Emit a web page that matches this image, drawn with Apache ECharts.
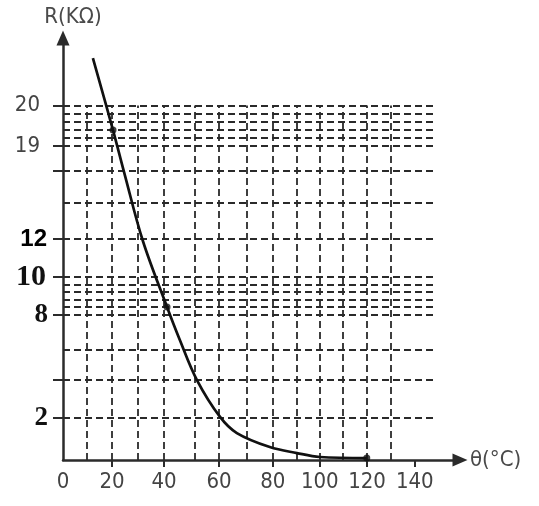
<!DOCTYPE html>
<html>
<head>
<meta charset="utf-8">
<script src="https://cdn.jsdelivr.net/npm/echarts@6/dist/echarts.min.js"></script>
<style>
  html, body { margin: 0; padding: 0; background: #fff; }
  #chart { width: 539px; height: 506px; }
</style>
</head>
<body>
<div id="chart"></div>
<script>
// Curve (θ in °C, R in kΩ as drawn on the axes)
const curveTheta = [11.9, 19.9, 24.3, 31.8, 41.4, 46.5, 53.3, 62.5, 69.2, 82.3, 93.1, 102.2, 120.9];
const curveR     = [22.67, 18.61, 16.24, 12.35, 8.63, 6.77, 4.51, 2.43, 1.52, 0.73, 0.39, 0.17, 0.11];

// Marked points on the curve
const markTheta = [19.9, 41.4, 120.9];
const markR     = [18.61, 8.63, 0.11];

// Dashed grid lines (positions)
const hGridValues = [20, 19.52, 19.06, 18.61, 18.16, 17.71, 16.30, 14.50, 12.46,
                     10.32, 9.87, 9.48, 9.02, 8.63, 8.18, 6.20, 4.51, 2.37];
const vGridValues = [9.5, 19.5, 29.8, 40.2, 52.5, 62.1, 73.2, 83.5, 93.1, 102.2, 111.4, 121, 130.5];
const hGridEnd = 148;   // horizontal lines run from θ=0 to here
const vGridEnd = 20;    // vertical lines run from R=0 to here

// Axis ticks and labels
const xTickValues = [0, 19.5, 40.2, 62.1, 83.5, 102.2, 121, 140];
const xTickLabels = ['0', '20', '40', '60', '80', '100', '120', '140'];
const yTickValues = [20, 17.71, 16.30, 12.46, 10.32, 8.18, 4.51, 2.37];
const yLabelValues = [20, 17.71, 12.46, 10.32, 8.18, 2.37];
const yLabelTexts  = ['20', '19', '12', '10', '8', '2'];

const xName = 'θ(°C)';
const yName = 'R(KΩ)';

const yLabelStyle = { '20': 's', '19': 's', '12': 'b', '10': 't', '8': 'u', '2': 'u' };

const chart = echarts.init(document.getElementById('chart'), null, { renderer: 'canvas' });

const gridLineData = [];
hGridValues.forEach(v => gridLineData.push([{ coord: [0, v] }, { coord: [hGridEnd, v] }]));
vGridValues.forEach(v => gridLineData.push([{ coord: [v, 0] }, { coord: [v, vGridEnd] }]));

const axisColor = '#2b2b2b';
const sansFont = 'DejaVu Sans Condensed, Liberation Sans, sans-serif';

const option = {
  animation: false,
  backgroundColor: '#ffffff',
  grid: { left: 63, right: 79, top: 38, bottom: 46, containLabel: false },
  xAxis: {
    type: 'value',
    min: 0,
    max: 158,
    name: xName,
    nameLocation: 'end',
    nameGap: 10,
    nameTextStyle: { fontFamily: sansFont, fontSize: 22, color: '#4a4a4a', verticalAlign: 'middle' },
    axisLine: { show: true, symbol: ['none', 'triangle'], symbolSize: [13, 15], lineStyle: { color: axisColor, width: 2.5 } },
    axisTick: { show: true, customValues: xTickValues.slice(1), length: 7, lineStyle: { color: axisColor, width: 2 } },
    axisLabel: {
      show: true,
      customValues: xTickValues,
      margin: 11,
      fontFamily: sansFont,
      fontSize: 22,
      color: '#444',
      formatter: function (v) {
        let best = 0, d = Infinity;
        xTickValues.forEach((t, i) => { if (Math.abs(t - v) < d) { d = Math.abs(t - v); best = i; } });
        return xTickLabels[best];
      }
    },
    splitLine: { show: false }
  },
  yAxis: {
    type: 'value',
    min: 0,
    max: 23.8,
    name: yName,
    nameLocation: 'end',
    nameGap: 10,
    nameTextStyle: { fontFamily: sansFont, fontSize: 22, color: '#4a4a4a', padding: [0, 0, 0, 20] },
    axisLine: { show: true, symbol: ['none', 'triangle'], symbolSize: [13, 15], lineStyle: { color: axisColor, width: 2.5 } },
    axisTick: { show: true, customValues: yTickValues, length: 10, lineStyle: { color: axisColor, width: 2 } },
    axisLabel: {
      show: true,
      customValues: yLabelValues,
      margin: 13,
      formatter: function (v) {
        let best = 0, d = Infinity;
        yLabelValues.forEach((t, i) => { if (Math.abs(t - v) < d) { d = Math.abs(t - v); best = i; } });
        const txt = yLabelTexts[best];
        return '{' + yLabelStyle[txt] + '|' + txt + '}';
      },
      rich: {
        s: { fontFamily: sansFont, fontSize: 22, color: '#444', padding: [0, 10, 0, 0] },
        b: { fontFamily: 'Liberation Sans, Arial, sans-serif', fontWeight: 'bold', fontSize: 24, color: '#000', padding: [0, 3, 0, 0] },
        t: { fontFamily: 'Liberation Serif, Times New Roman, serif', fontWeight: 'bold', fontSize: 30, color: '#111', padding: [0, 4, 0, 0] },
        u: { fontFamily: 'Liberation Serif, Times New Roman, serif', fontWeight: 'bold', fontSize: 27, color: '#111', padding: [0, 2, 0, 0] }
      }
    },
    splitLine: { show: false }
  },
  series: [
    {
      name: 'grid',
      type: 'line',
      data: [],
      silent: true,
      z: 1,
      markLine: {
        silent: true,
        symbol: ['none', 'none'],
        label: { show: false },
        emphasis: { disabled: true },
        lineStyle: { type: [7, 4], color: '#2a2a2a', width: 1.8 },
        data: gridLineData
      }
    },
    {
      name: 'R',
      type: 'line',
      data: curveTheta.map((t, i) => [t, curveR[i]]),
      smooth: 0.35,
      showSymbol: false,
      lineStyle: { color: '#111', width: 2.7 },
      z: 5
    },
    {
      name: 'points',
      type: 'scatter',
      data: markTheta.map((t, i) => [t, markR[i]]),
      symbolSize: 7,
      itemStyle: { color: '#111' },
      z: 6
    }
  ]
};

chart.setOption(option);
</script>
</body>
</html>
